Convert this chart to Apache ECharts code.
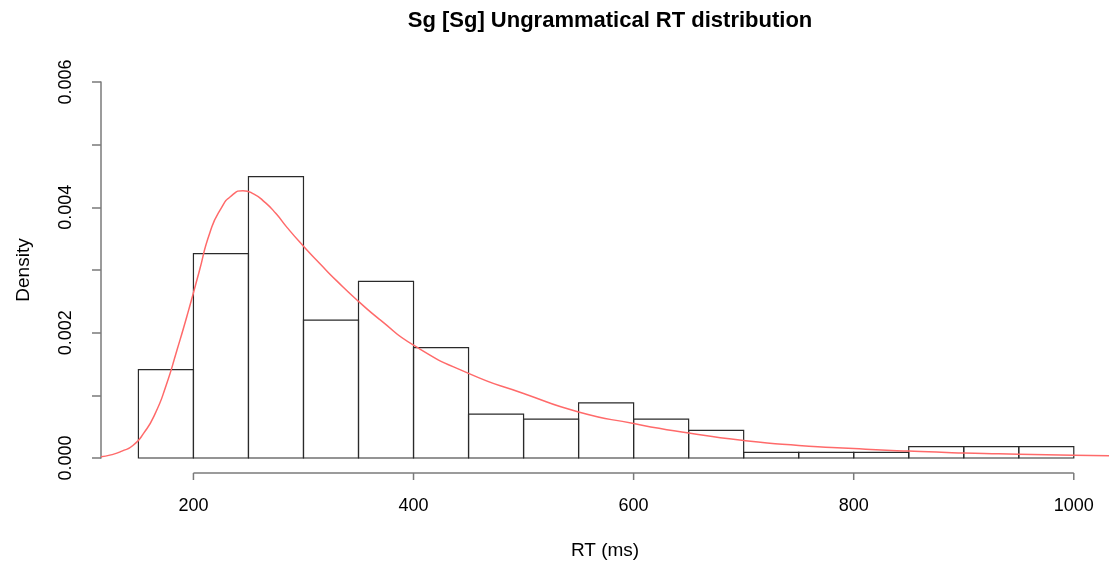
<!DOCTYPE html>
<html>

<head>
  <meta charset="utf-8">
  <title>Sg [Sg] Ungrammatical RT distribution</title>
  <script src="https://cdn.jsdelivr.net/npm/echarts@6/dist/echarts.min.js" charset="utf-8"></script>
  <style media="screen">
    html, body {
      margin: 0;
      padding: 0;
      background: #fff;
    }
  </style>
</head>

<body>
  <div id="main" style="width:1109px;height:566px;"></div>

  <script type="text/javascript">
    // histogram bins (ms) and their densities
    var binEdges = [150, 200, 250, 300, 350, 400, 450, 500, 550, 600, 650, 700, 750, 800, 850, 900, 950, 1000];
    var density = [0.00141, 0.00326, 0.00449, 0.00220, 0.00282, 0.00176, 0.00070, 0.00062, 0.00088,
      0.00062, 0.00044, 0.00009, 0.00009, 0.00009, 0.00018, 0.00018, 0.00018];

    // fitted density curve
    var curveX = [116, 125, 135, 145, 155, 165, 175, 185, 195, 205, 215, 225, 235, 245, 255, 265, 275, 285,
      300, 315, 330, 350, 370, 400, 450, 500, 550, 600, 650, 700, 750, 800, 850, 900, 950, 1000, 1032];
    var curveY = [0.00002, 0.00005, 0.00011, 0.00020, 0.00040, 0.00070, 0.00115, 0.00172, 0.00232, 0.00296,
      0.00360, 0.00398, 0.00419, 0.004265, 0.00421, 0.00408, 0.00390, 0.00368, 0.00338, 0.00310, 0.00283,
      0.00250, 0.00220, 0.00180, 0.00135, 0.00103, 0.000735, 0.00055, 0.00040, 0.00028, 0.00020, 0.00015,
      0.00011, 0.00008, 0.00006, 0.000045, 0.000035];

    var xTicks = [200, 400, 600, 800, 1000];
    var yLabels = [0, 0.002, 0.004, 0.006];

    var font = 'Liberation Sans, Arial, Helvetica, sans-serif';
    var axisGray = '#7a7a7a';
    var axisDrop = 15; // R puts the x axis a little below the plot

    var histData = [];
    for (var i = 0; i < density.length; i++) {
      histData.push([binEdges[i], binEdges[i + 1], density[i]]);
    }
    var curveData = curveX.map(function(x, i) {
      return [x, curveY[i]];
    });

    var myChart = echarts.init(document.getElementById('main'));

    var option = {
      animation: false,
      backgroundColor: '#fff',
      title: {
        text: 'Sg [Sg] Ungrammatical RT distribution',
        left: 605,
        textAlign: 'center',
        top: 5,
        textStyle: {
          fontFamily: font,
          fontSize: 22,
          fontWeight: 'bold',
          color: '#000'
        }
      },
      grid: {
        left: 101,
        right: 0,
        top: 82,
        bottom: 108
      },
      xAxis: {
        type: 'value',
        min: 116,
        max: 1032,
        name: 'RT (ms)',
        nameLocation: 'middle',
        nameGap: 83,
        nameTextStyle: {
          fontFamily: font,
          fontSize: 19,
          color: '#000'
        },
        axisLine: {
          show: false
        },
        axisTick: {
          show: false
        },
        axisLabel: {
          customValues: xTicks,
          margin: 39,
          fontFamily: font,
          fontSize: 18,
          color: '#000',
          formatter: function(v) {
            return String(v);
          }
        },
        splitLine: {
          show: false
        }
      },
      yAxis: {
        type: 'value',
        min: 0,
        max: 0.006,
        interval: 0.001,
        name: 'Density',
        nameLocation: 'middle',
        nameRotate: 90,
        nameGap: 68,
        nameTextStyle: {
          fontFamily: font,
          fontSize: 19,
          color: '#000'
        },
        axisLine: {
          show: true,
          lineStyle: {
            color: axisGray,
            width: 1.5
          }
        },
        axisTick: {
          show: true,
          length: 9,
          lineStyle: {
            color: axisGray,
            width: 1.5
          }
        },
        axisLabel: {
          customValues: yLabels,
          rotate: 90,
          margin: 26,
          fontFamily: font,
          fontSize: 18,
          color: '#000',
          formatter: function(v) {
            return v.toFixed(3);
          }
        },
        splitLine: {
          show: false
        }
      },
      series: [{
        type: 'custom',
        data: histData,
        encode: {
          x: [0, 1],
          y: 2
        },
        renderItem: function(params, api) {
          var topLeft = api.coord([api.value(0), api.value(2)]);
          var bottomRight = api.coord([api.value(1), 0]);
          return {
            type: 'rect',
            shape: {
              x: topLeft[0],
              y: topLeft[1],
              width: bottomRight[0] - topLeft[0],
              height: bottomRight[1] - topLeft[1]
            },
            style: {
              fill: 'none',
              stroke: '#2a2a2a',
              lineWidth: 1.2
            }
          };
        }
      }, {
        type: 'line',
        data: curveData,
        showSymbol: false,
        smooth: 0.6,
        lineStyle: {
          color: '#ff6a6a',
          width: 1.5
        },
        z: 3
      }]
    };
    myChart.setOption(option);

    // R draws the x axis line only between the first and last tick, below the plot
    var pStart = myChart.convertToPixel({ gridIndex: 0 }, [xTicks[0], 0]),
      pEnd = myChart.convertToPixel({ gridIndex: 0 }, [xTicks[xTicks.length - 1], 0]);
    var axisY = pStart[1] + axisDrop;
    var axisGraphics = [{
      type: 'line',
      shape: { x1: pStart[0], y1: axisY, x2: pEnd[0], y2: axisY },
      style: { stroke: axisGray, lineWidth: 1.5 }
    }];
    xTicks.forEach(function(t) {
      var p = myChart.convertToPixel({ gridIndex: 0 }, [t, 0]);
      axisGraphics.push({
        type: 'line',
        shape: { x1: p[0], y1: axisY, x2: p[0], y2: axisY + 7 },
        style: { stroke: axisGray, lineWidth: 1.5 }
      });
    });
    myChart.setOption({
      graphic: axisGraphics
    });
  </script>
</body>

</html>
